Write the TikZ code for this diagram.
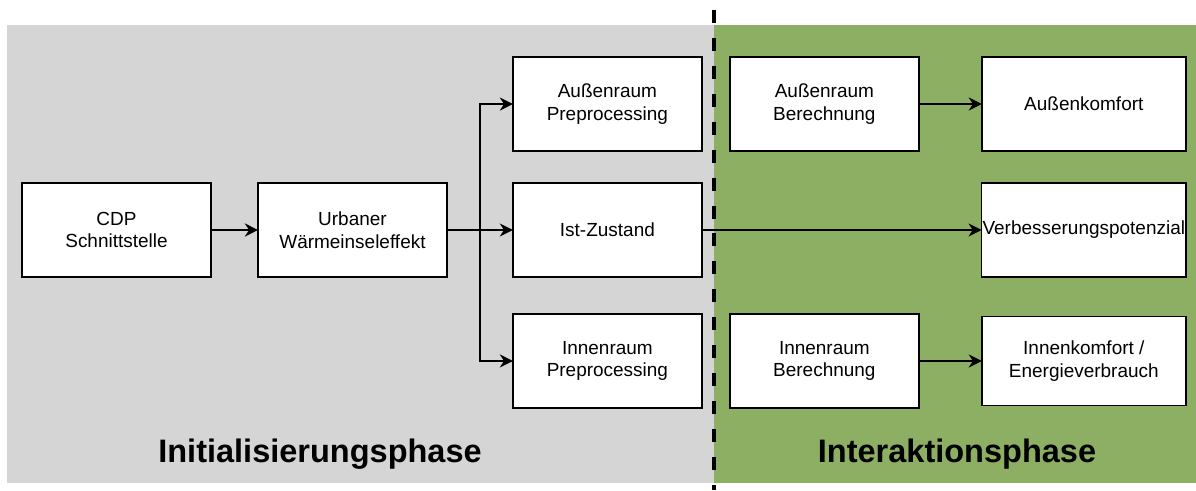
\documentclass[tikz,border=0pt]{standalone}
\usepackage{fontspec}
\setmainfont{Liberation Sans}
\usepackage{tikz}
\usetikzlibrary{positioning, arrows.meta}

\definecolor{initgray}{HTML}{D5D5D5}
\definecolor{interactgreen}{HTML}{8DAF63}

\begin{document}
\begin{tikzpicture}[x=0.02cm, y=-0.02cm, node distance=0.94cm, font=\fontsize{10.8}{12.8}\selectfont]
		\tikzstyle{process} = [rectangle, minimum width=3.78cm, minimum height=1.88cm, align=center, draw=black, fill=white, line width=0.8pt, inner sep=0.5pt, outer sep=0pt]
		
		\tikzstyle{result} = [process, minimum width=4.08cm]
		
		\tikzstyle{phase} = [anchor=base, font=\fontsize{18.5}{22}\selectfont\bfseries]
		
		\tikzstyle{arrow} = [->, >={Stealth[length=7.5pt, width=7.5pt]}, line width=0.75pt]
		\tikzstyle{divider} = [line width=2pt, dash pattern=on 7.4pt off 8.5pt]
		
		\useasboundingbox (0,0) rectangle (1196,490);
		
		% Backgrounds of the two phases
		\fill[initgray] (7,25) rectangle (714,483);
		\fill[interactgreen] (714,25) rectangle (1196,483);
		
		\node (init) [phase] at (320,462) {Initialisierungsphase};
		\node (inter) [phase] at (957,462) {Interaktionsphase};
		
		% Border between the phases
		\coordinate (divtop) at (714,10);
		\coordinate (divbot) at (714,490);
		\draw [divider] (divtop) -- (divbot);
		
		% Initialisation nodes
		\node (cdp) [process] at (116.5,230) {CDP\\Schnittstelle};
		\node (uhi) [process, right = of cdp] {Urbaner\\Wärmeinseleffekt};
		\node (ist) [process, right = 1.32cm of uhi] {Ist-Zustand};
		\node (apre) [process, above = 0.64cm of ist] {Außenraum\\Preprocessing};
		\node (ipre) [process, below = 0.74cm of ist] {Innenraum\\Preprocessing};
		
		% Interaction nodes
		\node (aber) [process, right = 0.56cm of apre] {Außenraum\\Berechnung};
		\node (iber) [process, right = 0.56cm of ipre] {Innenraum\\Berechnung};
		\node (akom) [result, right = 1.26cm of aber] {Außenkomfort};
		\node (verb) [result, below = 0.64cm of akom] {Verbesserungspotenzial};
		\node (ikom) [result, minimum height=1.78cm, right = 1.26cm of iber] {Innenkomfort /\\Energieverbrauch};
		
		% Arrows
		\coordinate [right = 0.66cm of uhi.east] (split);
		\draw [arrow] (cdp) -- (uhi);
		\draw [arrow] (uhi) -- (ist);
		\draw [arrow] (split) |- (apre);
		\draw [arrow] (split) |- (ipre);
		\draw [arrow] (ist) -- (verb);
		\draw [arrow] (aber) -- (akom);
		\draw [arrow] (iber) -- (ikom);
	\end{tikzpicture}
\end{document}
